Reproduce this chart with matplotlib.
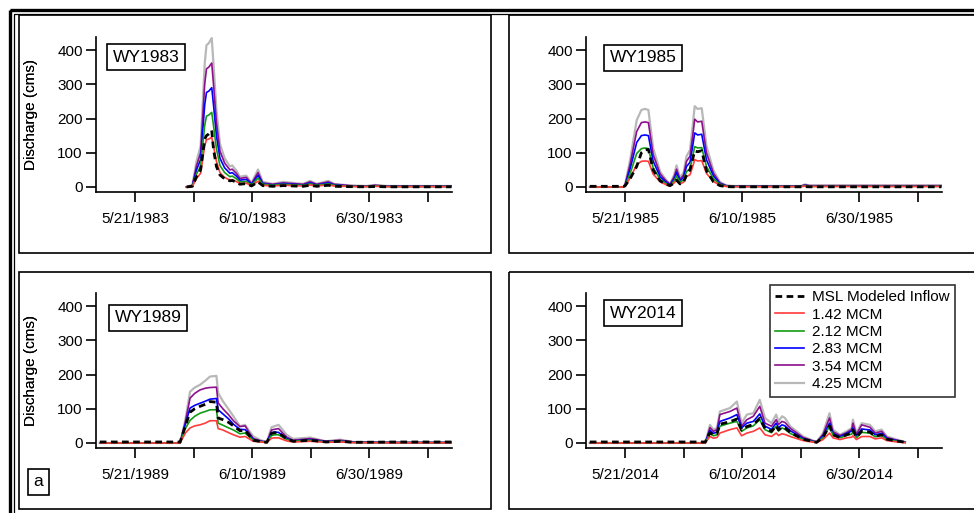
import matplotlib
matplotlib.use('Agg')
import matplotlib.pyplot as plt
from matplotlib.patches import Rectangle

plt.rcParams['font.family'] = ['Liberation Sans', 'DejaVu Sans']

# x values are days after 5/21 of each water year
labels = ['MSL Modeled Inflow', '1.42 MCM', '2.12 MCM', '2.83 MCM', '3.54 MCM', '4.25 MCM']
colors = ['black', '#ff3b3b', '#139c13', '#0000ff', '#8c0f8c', '#b8b8b8']
tick_days = [0, 10, 20, 30, 40, 50]
tick_dates = ['5/21/', '', '6/10/', '', '6/30/', '']

# WY1983
days_1983 = [8.8, 9.8, 10.5, 11.2, 11.9, 12.2, 12.6, 13.1, 13.4, 13.9, 14.5, 15.3, 16.2, 16.6, 17.3, 17.9, 19.0,
             19.9, 21.0, 21.8, 23.5, 25.3, 27.0, 28.7, 29.9, 31.0, 33.0, 34.0, 36.7, 39.5, 41.0, 43.0, 48.0, 54.0]
msl_1983 = [0, 2, 30, 50, 140, 150, 155, 165, 110, 60, 35, 24, 18, 19, 14, 8, 10, 3, 15, 4, 2, 4, 3, 2, 5, 2, 5, 2,
            1, 0.5, 1.5, 0.5, 0.5, 0.5]
s142_1983 = [0, 2, 25, 40, 120, 138, 140, 145, 120, 75, 42, 28, 20, 21, 16, 10, 11, 4, 17, 5, 3, 5, 4, 3, 6, 3, 6, 3,
             1.5, 1, 2, 1, 1, 1]
s212_1983 = [0, 3, 38, 60, 180, 207, 210, 218, 180, 112, 63, 42, 30, 32, 24, 15, 16, 6, 26, 8, 5, 8, 6, 5, 9, 5, 9, 5,
             2, 1.5, 3, 1.5, 1.5, 1.5]
s283_1983 = [0, 4, 50, 80, 240, 276, 280, 290, 240, 150, 84, 56, 40, 42, 32, 20, 22, 8, 34, 10, 6, 10, 8, 6, 12, 6, 12,
             6, 3, 2, 4, 2, 2, 2]
s354_1983 = [0, 5, 62, 100, 300, 345, 350, 362, 300, 188, 105, 70, 50, 52, 40, 25, 28, 10, 42, 12, 8, 12, 10, 8, 15, 8,
             15, 8, 4, 2.5, 5, 2.5, 2.5, 2.5]
s425_1983 = [0, 6, 75, 120, 360, 414, 420, 435, 360, 225, 126, 84, 60, 63, 48, 30, 33, 12, 51, 15, 9, 15, 12, 9, 18, 9,
             18, 9, 4.5, 3, 6, 3, 3, 3]

# WY1985
days_1985 = [-6.0, -0.3, 0.0, 0.9, 2.0, 2.8, 3.4, 4.0, 4.8, 6.0, 7.0, 7.7, 8.4, 8.8, 9.4, 10.0, 10.5, 11.1, 11.6, 11.9,
             12.4, 13.1, 13.9, 15.1, 16.2, 17.3, 18.5, 25.0, 30.0, 30.7, 31.5, 54.0]
msl_1985 = [2, 2, 3, 25, 60, 100, 108, 110, 50, 18, 8, 4, 12, 20, 9, 14, 35, 50, 85, 105, 103, 106, 48, 15, 4, 1, 0.5,
            0.5, 0.5, 1, 0.5, 0.5]
s142_1985 = [0, 0, 2, 27, 65, 75, 76, 75, 38, 15, 7, 3, 12, 21, 9, 14, 30, 36, 62, 80, 76, 77, 40, 16, 5, 1.5, 1, 1, 1,
             2.5, 1.5, 1.5]
s212_1985 = [0, 0, 3, 40, 98, 112, 114, 112, 57, 22, 10, 4.5, 18, 32, 14, 21, 45, 54, 93, 118, 114, 115, 60, 24, 8, 2,
             1.5, 1.5, 1.5, 4, 2, 2]
s283_1985 = [0, 0, 4, 54, 130, 150, 152, 150, 76, 30, 14, 6, 24, 42, 18, 28, 60, 72, 124, 158, 152, 154, 80, 32, 10, 3,
             2, 2, 2, 5, 3, 3]
s354_1985 = [0, 0, 5, 68, 162, 188, 190, 188, 95, 38, 18, 8, 30, 52, 22, 35, 75, 90, 155, 198, 190, 192, 100, 40, 12,
             4, 2.5, 2.5, 2.5, 6, 4, 4]
s425_1985 = [0, 0, 6, 81, 195, 225, 228, 225, 114, 45, 21, 9, 36, 63, 27, 42, 90, 108, 186, 236, 228, 230, 120, 48, 15,
             4.5, 3, 3, 3, 7.5, 4.5, 4.5]

# WY1989
days_1989 = [-6.0, 7.7, 8.6, 9.4, 10.2, 11.1, 12.0, 12.8, 13.9, 14.2, 15.0, 16.0, 16.8, 17.9, 18.8, 19.5, 20.2, 21.5,
             22.5, 23.3, 23.8, 24.5, 25.9, 27.0, 29.9, 32.6, 35.0, 37.3, 45.0, 54.0]
msl_1989 = [3, 3, 50, 90, 100, 107, 113, 121, 119, 73, 68, 60, 50, 36, 37, 22, 8, 4, 2, 28, 30, 30, 12, 5, 8, 3, 5, 2,
            3, 3]
s142_1989 = [0, 0, 29, 44, 50, 53, 58, 65, 65, 42, 38, 30, 24, 17, 19, 12, 5, 3, 1, 14, 15, 15, 6, 3, 5, 2, 3, 1, 0.5,
             0.5]
s212_1989 = [0, 0, 42, 66, 78, 87, 92, 97, 97, 58, 52, 44, 38, 27, 29, 18, 8, 4, 1.5, 22, 24, 24, 10, 5, 8, 3, 5, 1.5,
             1, 1]
s283_1989 = [0, 0, 55, 102, 110, 116, 122, 128, 130, 97, 85, 70, 55, 40, 39, 25, 10, 5, 2, 30, 32, 31, 13, 6, 10, 4, 6,
             2, 1, 1]
s354_1989 = [0, 0, 62, 131, 145, 155, 160, 162, 163, 117, 100, 82, 65, 48, 50, 30, 13, 6, 2, 38, 40, 42, 17, 8, 13, 5,
             8, 3, 1.5, 1.5]
s425_1989 = [0, 0, 68, 150, 162, 170, 182, 194, 196, 146, 122, 98, 78, 49, 53, 35, 19, 8, 3, 46, 49, 53, 24, 12, 16, 5,
             10, 3, 2, 2]

# WY2014
days_2014 = [-6.0, 13.7, 14.5, 15.1, 15.7, 16.2, 17.9, 19.1, 19.9, 20.8, 21.9, 23.0, 23.9, 25.0, 25.8, 26.2, 26.8,
             27.3, 28.2, 30.4, 32.7, 33.8, 34.9, 35.5, 36.7, 37.8, 38.7, 38.9, 39.5, 40.4, 41.8, 42.7, 43.8, 44.7,
             46.4, 47.8]
msl_2014 = [3, 3, 30, 24, 27, 55, 62, 70, 38, 48, 54, 72, 42, 34, 50, 38, 47, 44, 31, 11, 2, 17, 50, 24, 16, 24, 30,
            38, 17, 35, 32, 20, 24, 11, 6, 2]
s142_2014 = [0, 0, 19, 14, 16, 29, 39, 44, 21, 29, 34, 44, 24, 19, 29, 22, 27, 25, 19, 7, 1, 10, 29, 15, 10, 15, 17,
             21, 10, 19, 19, 12, 15, 7, 3, 1]
s212_2014 = [0, 0, 28, 21, 24, 49, 58, 63, 34, 44, 50, 68, 39, 30, 49, 35, 44, 40, 28, 10, 1.5, 15, 49, 22, 15, 22, 26,
             34, 15, 31, 29, 18, 22, 10, 5, 1.5]
s283_2014 = [0, 0, 37, 28, 32, 63, 73, 83, 44, 58, 63, 85, 49, 40, 58, 45, 53, 50, 36, 13, 2, 20, 58, 28, 18, 28, 35,
             44, 20, 41, 38, 24, 28, 13, 7, 2]
s354_2014 = [0, 0, 45, 34, 39, 83, 92, 102, 49, 68, 78, 107, 58, 49, 68, 54, 63, 60, 43, 16, 2.5, 25, 73, 33, 22, 30,
             40, 58, 25, 53, 46, 29, 34, 16, 8, 2.5]
s425_2014 = [0, 0, 53, 39, 44, 92, 102, 121, 58, 83, 87, 126, 73, 58, 83, 63, 78, 73, 49, 19, 3, 29, 87, 39, 24, 34,
             44, 68, 29, 58, 53, 34, 39, 19, 10, 3]

panels = {
    '1983': (days_1983, [msl_1983, s142_1983, s212_1983, s283_1983, s354_1983, s425_1983]),
    '1985': (days_1985, [msl_1985, s142_1985, s212_1985, s283_1985, s354_1985, s425_1985]),
    '1989': (days_1989, [msl_1989, s142_1989, s212_1989, s283_1989, s354_1989, s425_1989]),
    '2014': (days_2014, [msl_2014, s142_2014, s212_2014, s283_2014, s354_2014, s425_2014]),
}

W, H = 974, 513
fig = plt.figure(figsize=(W / 100, H / 100), dpi=100)

# background layer in pixel coordinates for the frames
bg = fig.add_axes([0, 0, 1, 1])
bg.set_xlim(0, W)
bg.set_ylim(H, 0)
bg.axis('off')
bg.add_patch(Rectangle((9.8, 9.8), 1000, 1000, fill=False, lw=2.4, ec='black'))
bg.add_patch(Rectangle((14.2, 14.2), 1000, 1000, fill=False, lw=0.9, ec='black'))
for fx, fy, fw, fh in [(18.5, 14.5, 472.5, 238.5), (509, 14.5, 500, 238.5),
                       (18.5, 272, 472.5, 237), (509, 272, 500, 237)]:
    bg.add_patch(Rectangle((fx, fy), fw, fh, fill=False, lw=1.2, ec='black'))

# axes boxes in pixels: left, top, right, bottom
boxes = {'1983': (96, 37, 452, 192), '1985': (586, 37, 942, 192),
         '1989': (96, 293, 452, 448), '2014': (586, 293, 942, 448)}
title_pos = {'1983': (146, 57), '1985': (643, 58), '1989': (148, 318), '2014': (643, 313)}

for year, (days, series) in panels.items():
    l, t, r, b = boxes[year]
    ax = fig.add_axes([l / W, 1 - b / H, (r - l) / W, (b - t) / H])
    ax.patch.set_alpha(0)
    handles = {}
    for i in [5, 4, 3, 2, 1]:
        handles[i], = ax.plot(days, series[i], color=colors[i], lw=1.6 if i == 5 else 1.2, label=labels[i])
    handles[0], = ax.plot(days, series[0], color='black', lw=2.0, dashes=(2.4, 1.6), label=labels[0])

    ax.set_xlim(-6.65, 54.1)
    ax.set_ylim(-14.6, 438)
    ax.spines['top'].set_visible(False)
    ax.spines['right'].set_visible(False)
    for s in ['left', 'bottom']:
        ax.spines[s].set_linewidth(1.2)
    ax.set_yticks([0, 100, 200, 300, 400])
    ax.set_xticks(tick_days)
    ax.set_xticklabels([d + year if d else '' for d in tick_dates])
    ax.tick_params(axis='both', length=7.5, width=1.2, labelsize=11, direction='out')
    ax.tick_params(axis='x', pad=7)
    ax.tick_params(axis='y', pad=2)
    ax.set_ylabel('Discharge (cms)', fontsize=11)
    ax.yaxis.set_label_coords((38 - l) / (r - l), 0.5)

    tx, ty = title_pos[year]
    bg.text(tx, ty, 'WY' + year, ha='center', va='center', fontsize=12.5,
            bbox=dict(boxstyle='square,pad=0.3', fc='white', ec='black', lw=1.2))

    if year == '2014':
        leg = ax.legend([handles[i] for i in range(6)], labels, loc='upper right',
                        bbox_to_anchor=(955 / W, 1 - 285 / H), bbox_transform=fig.transFigure,
                        fontsize=11, frameon=True, fancybox=False, borderaxespad=0,
                        handlelength=1.9, handletextpad=0.5, labelspacing=0.22, borderpad=0.35)
        leg.get_frame().set_edgecolor('black')
        leg.get_frame().set_linewidth(1.2)

bg.text(38.5, 482, 'a', ha='center', va='center', fontsize=12.5,
        bbox=dict(boxstyle='square,pad=0.3', fc='white', ec='black', lw=1.2))

fig.savefig('out.png', dpi=100)
